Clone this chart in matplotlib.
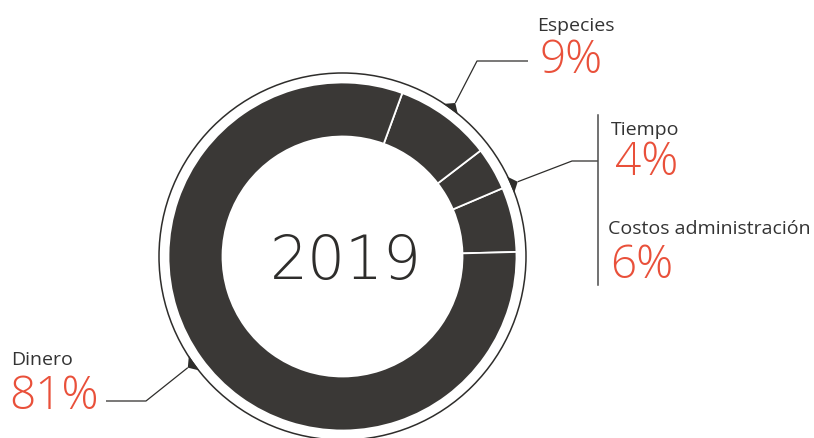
import matplotlib
matplotlib.use('Agg')
import matplotlib.pyplot as plt
import numpy as np
from matplotlib.patches import Circle, Polygon

# ---- data ----
categories = ['Costos administración', 'Tiempo', 'Especies', 'Dinero']
values = [6, 4, 9, 81]
pct_labels = ['6%', '4%', '9%', '81%']
year_label = '2019'

# ---- layout ----
W, H = 814, 439
fig = plt.figure(figsize=(W / 100, H / 100), dpi=100)
ax = fig.add_axes([0, 0, 1, 1])

cx, cy = 342.5, H - 257.5
R_out, R_in, R_ring = 174, 120, 183.5
start = 1.5
dark = '#3a3836'
orange = '#e9503a'
textc = '#333333'
font = 'Open Sans'

wedges, _ = ax.pie(values, startangle=start, counterclock=True, radius=R_out,
                   center=(cx, cy), colors=[dark] * len(values),
                   wedgeprops=dict(width=R_out - R_in, edgecolor='white', linewidth=1.3))
ax.set_xlim(0, W)
ax.set_ylim(0, H)
ax.set_aspect('equal')
ax.axis('off')

# outer thin ring
ax.add_patch(Circle((cx, cy), R_ring, fill=False, edgecolor='#2e2d2b', linewidth=1.1))

# centre label
ax.text(cx + 3, H - 279, year_label, ha='center', va='baseline', fontsize=43,
        family='DejaVu Sans', fontweight='light', color='#2e2d2b')


def pt(r, ang):
    a = np.deg2rad(ang)
    return cx + r * np.cos(a), cy + r * np.sin(a)


def leader(ang, elbow, end):
    b1 = pt(R_ring - 0.5, ang - 2.8)
    b2 = pt(R_ring - 0.5, ang + 2.8)
    apex = pt(R_ring + 7, ang)
    ax.add_patch(Polygon([b1, apex, b2], closed=True, facecolor='#2e2d2b',
                         edgecolor='none'))
    xs = [apex[0], elbow[0], end[0]]
    ys = [apex[1], H - elbow[1], H - end[1]]
    ax.plot(xs, ys, color='#2e2d2b', lw=0.9, solid_capstyle='butt')


idx = {c: i for i, c in enumerate(categories)}
w_esp = wedges[idx['Especies']]
w_tie = wedges[idx['Tiempo']]
w_din = wedges[idx['Dinero']]

leader((w_esp.theta1 + w_esp.theta2) / 2, (477, 62), (528, 62))
leader(w_tie.theta1, (572, 162), (598, 162))
leader((w_din.theta1 + w_din.theta2) / 2, (146, 402), (106, 402))

# vertical bar grouping Tiempo / Costos
ax.plot([598, 598], [H - 116, H - 286], color='#4a4a4a', lw=1.1)

label_fs = 14
pct_fs = 33


def label(name, pct, xl, yb, xp, ypb):
    ax.text(xl, H - yb, name, ha='left', va='baseline', fontsize=label_fs,
            family=font, color=textc)
    ax.text(xp, H - ypb, pct, ha='left', va='baseline', fontsize=pct_fs,
            family=font, fontweight='light', color=orange)


label('Especies', pct_labels[idx['Especies']], 537, 31, 540, 73)
label('Tiempo', pct_labels[idx['Tiempo']], 611, 135, 615, 175)
label('Costos administración', pct_labels[idx['Costos administración']], 608, 234, 610, 278)
label('Dinero', pct_labels[idx['Dinero']], 11, 365, 9, 409)

fig.savefig('out.png', dpi=100, facecolor='white')
